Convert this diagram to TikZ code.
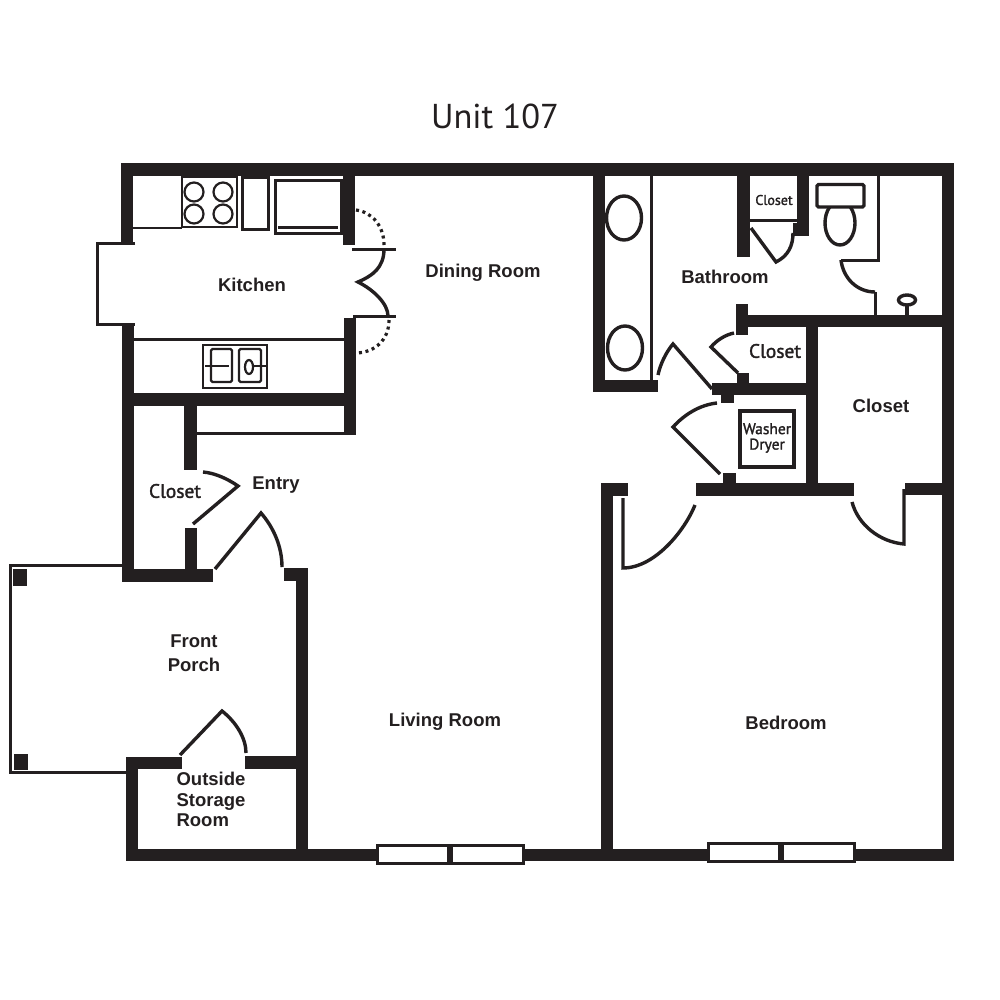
\documentclass[tikz,border=0pt]{standalone}
\usepackage{fontspec}
\usepackage{xcolor}
\usetikzlibrary{positioning}
\setmainfont{Liberation Sans}
\newfontfamily\titlefont{PT Sans}
\newfontfamily\semifont[FakeBold=1.6]{PT Sans}
\definecolor{WallBlack}{HTML}{231F20}
\tikzset{
  wall fill/.style={fill=WallBlack},
  thin edge/.style={draw=WallBlack, line width=3pt},
  door edge/.style={draw=WallBlack, line width=3.4pt},
  fix edge/.style={draw=WallBlack, line width=2.2pt},
  dot edge/.style={draw=WallBlack, line width=3.2pt, dash pattern=on 3pt off 3.6pt},
  window box/.style={draw=WallBlack, fill=white, line width=3pt},
  room node/.style={font=\fontsize{18.5}{20.5}\selectfont\bfseries, text=WallBlack,
                    inner sep=0pt, align=center},
  minor node/.style={font=\fontsize{19.5}{21}\selectfont\semifont, text=WallBlack,
                     inner sep=0pt, align=center},
}
\begin{document}
\begin{tikzpicture}[x=1pt, y=-1pt]
  \useasboundingbox (0,0) rectangle (1000,1000);
  \fill[white] (0,0) rectangle (1000,1000);
  \node[font=\fontsize{34.5}{36}\selectfont\titlefont, text=WallBlack, inner sep=0pt] (title) at (495,116) {Unit 107};

  % outer walls
  \fill[wall fill] (121,163) rectangle (954,176);
  \fill[wall fill] (942,163) rectangle (954,861);
  \fill[wall fill] (126,849) rectangle (954,861);
  \fill[wall fill] (121,163) rectangle (133,245);
  \fill[wall fill] (122,323) rectangle (134,582);
  \fill[wall fill] (126,757) rectangle (138,861);
  \fill[wall fill] (128,757) rectangle (182,769);
  \fill[wall fill] (245,756) rectangle (308,769);
  \fill[wall fill] (296,568) rectangle (308,861);
  \fill[wall fill] (284,568) rectangle (308,581);
  \fill[wall fill] (124,569) rectangle (213,582);

  % kitchen and entry walls
  \fill[wall fill] (343,163) rectangle (355,245);
  \fill[wall fill] (344,318) rectangle (356,433);
  \fill[wall fill] (122,393) rectangle (356,406);
  \fill[wall fill] (184,393) rectangle (197,470);
  \fill[wall fill] (185,528) rectangle (197,582);
  \draw[thin edge] (197,433) -- (356,433);
  \draw[thin edge] (135,243) -- (97,243) -- (97,324) -- (135,324);

  % porch
  \draw[thin edge] (124,565) -- (10,565) -- (10,772) -- (126,772);
  \fill[wall fill] (13,569) rectangle (27,586);
  \fill[wall fill] (14,754) rectangle (28,770);

  % bath, closets and bedroom walls
  \fill[wall fill] (593,163) rectangle (605,392);
  \fill[wall fill] (593,380) rectangle (658,392);
  \fill[wall fill] (737,163) rectangle (750,257);
  \fill[wall fill] (797,163) rectangle (809,236);
  \fill[wall fill] (793,223) rectangle (809,236);
  \fill[wall fill] (736,315) rectangle (942,327);
  \fill[wall fill] (736,304) rectangle (748,335);
  \fill[wall fill] (806,315) rectangle (818,496);
  \fill[wall fill] (712,383) rectangle (818,395);
  \fill[wall fill] (737,373) rectangle (749,395);
  \fill[wall fill] (721,383) rectangle (734,403);
  \fill[wall fill] (723,473) rectangle (736,496);
  \fill[wall fill] (696,483) rectangle (854,496);
  \fill[wall fill] (905,483) rectangle (954,495);
  \fill[wall fill] (601,483) rectangle (613,850);
  \fill[wall fill] (601,483) rectangle (628,496);
  \draw[thin edge] (651,176) -- (651,380);
  \draw[thin edge] (750,221) -- (797,221);
  \draw[thin edge] (878,176) -- (878,260) -- (841,260);
  \draw[thin edge] (875,292) -- (875,315);

  % windows
  \foreach \winx in {376,707} {
    \pgfmathsetmacro{\winy}{\winx==376 ? 845 : 843}
    \draw[window box] (\winx+1.5,\winy) rectangle ++(71,18);
    \draw[window box] (\winx+75.5,\winy) rectangle ++(72,18);
  }

  % doors
  \draw[door edge] (215,569) -- (261,513) .. controls (274,528) and (282,547) .. (282,567);
  \draw[door edge] (193,524) -- (238,486) .. controls (228,479) and (215,473) .. (203,472);
  \draw[door edge] (180,755) -- (222,711) .. controls (236,722) and (246,738) .. (246,753);
  \draw[door edge] (751,228) -- (776,262) .. controls (788,256) and (793,246) .. (793,233);
  \draw[door edge] (841,260) .. controls (843,278) and (857,292) .. (875,292);
  \draw[door edge] (738,373) -- (711,347) .. controls (717,340) and (725,335) .. (734,333);
  \draw[door edge] (712,389) -- (673,344) .. controls (666,352) and (660,365) .. (658,375);
  \draw[door edge] (720,474) -- (673,427) .. controls (684,415) and (699,405) .. (717,403);
  \draw[door edge] (623,498) -- (623,568) .. controls (655,568) and (685,530) .. (695,505);
  \draw[door edge] (904,489) -- (904,544) .. controls (880,542) and (858,525) .. (852,502);

  % kitchen pass doors
  \draw[thin edge] (352,249) -- (396,249);
  \draw[thin edge] (353,316) -- (396,316);
  \draw[door edge] (384,249) .. controls (384,268) and (372,276) .. (358,282)
                    .. controls (374,290) and (388,304) .. (388,316);
  \draw[dot edge] (356,210) .. controls (372,212) and (384,226) .. (384,245);
  \draw[dot edge] (389,320) .. controls (389,340) and (375,352) .. (357,353);

  % stove, fridge, oven, counters
  \draw[fix edge] (133,228) -- (182,228);
  \draw[fix edge] (182,177) rectangle (237,227);
  \foreach \bx in {194,223} {
    \foreach \by in {192,214} {
      \draw[fix edge] (\bx,\by) circle (9.5);
    }
  }
  \draw[thin edge] (242.5,177.5) rectangle (268.5,229.5);
  \draw[thin edge] (275,181) rectangle (341,234);
  \draw[thin edge] (278,228) -- (338,228);

  % sink
  \draw[thin edge] (134,339) -- (344,339);
  \draw[fix edge] (203,345) rectangle (267,388);
  \draw[fix edge, rounded corners=1.5pt] (211,349) rectangle (232,382);
  \draw[fix edge, rounded corners=1.5pt] (239,349) rectangle (261,382);
  \draw[fix edge] (205,366) -- (229,366);
  \draw[fix edge] (249,367) ellipse (4 and 7);
  \draw[fix edge] (253,366) -- (267,366);

  % bath fixtures
  \draw[door edge] (624,218) ellipse (17.5 and 22);
  \draw[door edge] (625,348) ellipse (17.5 and 22);
  \draw[door edge] (840,223) ellipse (15 and 22);
  \draw[door edge, fill=white, rounded corners=1.5pt] (817,184.5) rectangle (864,207);
  \draw[door edge] (907,300) ellipse (8.5 and 5);
  \draw[door edge] (907,305) -- (907,315);
  \draw[door edge] (740,411) rectangle (794,467);

  % room labels
  \node[room node] (kitchen) at (252,285) {Kitchen};
  \node[room node] (dining) at (483,272.5) {Dining Room};
  \node[room node] (bathroom) at (725,277) {Bathroom};
  \node[minor node] (closetmid) at (775,351) {Closet};
  \node[room node] (closetbig) at (881,406) {Closet};
  \node[room node] (entry) at (276,485) {Entry};
  \node[room node, font=\fontsize{18.5}{24}\selectfont\bfseries] (porch) at (194,653) {Front\\Porch};
  \node[room node] (living) at (445,721.5) {Living Room};
  \node[room node] (bedroom) at (786,723) {Bedroom};
  \node[room node, align=left] (storage) at (211,799.5) {Outside\\Storage\\Room};
  \node[minor node] (closetentry) at (175,491) {Closet};
  \node[minor node, font=\fontsize{14}{15}\selectfont\semifont] (closettop) at (774,200) {Closet};
  \node[minor node, font=\fontsize{15.5}{15.5}\selectfont\semifont] (washer) at (767,438) {Washer\\Dryer};
\end{tikzpicture}
\end{document}
